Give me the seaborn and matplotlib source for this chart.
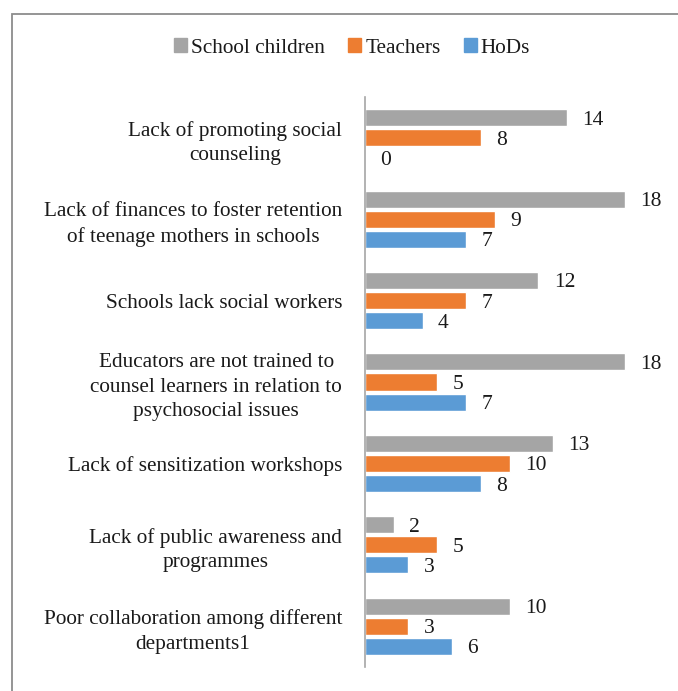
import matplotlib
matplotlib.use("Agg")
import matplotlib.pyplot as plt
from matplotlib.patches import Rectangle
import seaborn as sns
import pandas as pd

categories = [
    "Lack of promoting social\ncounseling",
    "Lack of finances to foster retention\nof teenage mothers in schools",
    "Schools lack social workers",
    "Educators are not trained to\ncounsel learners in relation to\npsychosocial issues",
    "Lack of sensitization workshops",
    "Lack of public awareness and\nprogrammes",
    "Poor collaboration among different\ndepartments1",
]
series = ["School children", "Teachers", "HoDs"]
school_children = [14, 18, 12, 18, 13, 2, 10]
teachers = [8, 9, 7, 5, 10, 5, 3]
hods = [0, 7, 4, 7, 8, 3, 6]
colors = ["#A5A5A5", "#ED7D31", "#5B9BD5"]

rows = []
for name, vals in zip(series, [school_children, teachers, hods]):
    for cat, v in zip(categories, vals):
        rows.append({"Category": cat, "Group": name, "Value": v})
df = pd.DataFrame(rows)

sns.set_theme(style="white")
plt.rcParams["font.family"] = ["Liberation Serif", "DejaVu Serif"]

W, H = 678, 691
fig = plt.figure(figsize=(W / 100, H / 100), dpi=100)
ax = fig.add_axes([365 / W, 1 - 667 / H, 289 / W, 570 / H])

sns.barplot(data=df, y="Category", x="Value", hue="Group", order=categories,
            hue_order=series, palette=colors, orient="h", width=0.74, gap=0.15,
            saturation=1, ax=ax, legend=False)

ax.set_xlim(0, 20)
ax.set_xlabel("")
ax.set_ylabel("")
ax.set_xticks([])
ax.tick_params(axis="y", length=0, pad=16.5, labelsize=15.3, labelcolor="#1a1a1a")
for lab in ax.get_yticklabels():
    lab.set_multialignment("center")
    lab.set_linespacing(1.38)
for side in ["top", "right", "bottom"]:
    ax.spines[side].set_visible(False)
ax.spines["left"].set_color("#A6A6A6")
ax.spines["left"].set_linewidth(1.2)

for container in ax.containers:
    texts = ax.bar_label(container, labels=[f"{v:g}" for v in container.datavalues],
                         padding=11, fontsize=15.5, color="#1a1a1a")
    for t in texts:
        t.set_verticalalignment("center_baseline")

handles = [Rectangle((0, 0), 1, 1, color=c) for c in colors]
fig.legend(handles, series, loc="center", bbox_to_anchor=(352 / W, 1 - 48 / H),
           ncol=3, frameon=False, fontsize=15.3, handlelength=0.6, handleheight=0.6,
           handletextpad=0.2, columnspacing=1.1, labelcolor="#1a1a1a")

fig.add_artist(Rectangle((12 / W, -0.05), 1.0, 1 - 14 / H + 0.05,
                         transform=fig.transFigure, fill=False,
                         edgecolor="#8C8C8C", linewidth=1.3))

fig.savefig("out.png", dpi=100)
